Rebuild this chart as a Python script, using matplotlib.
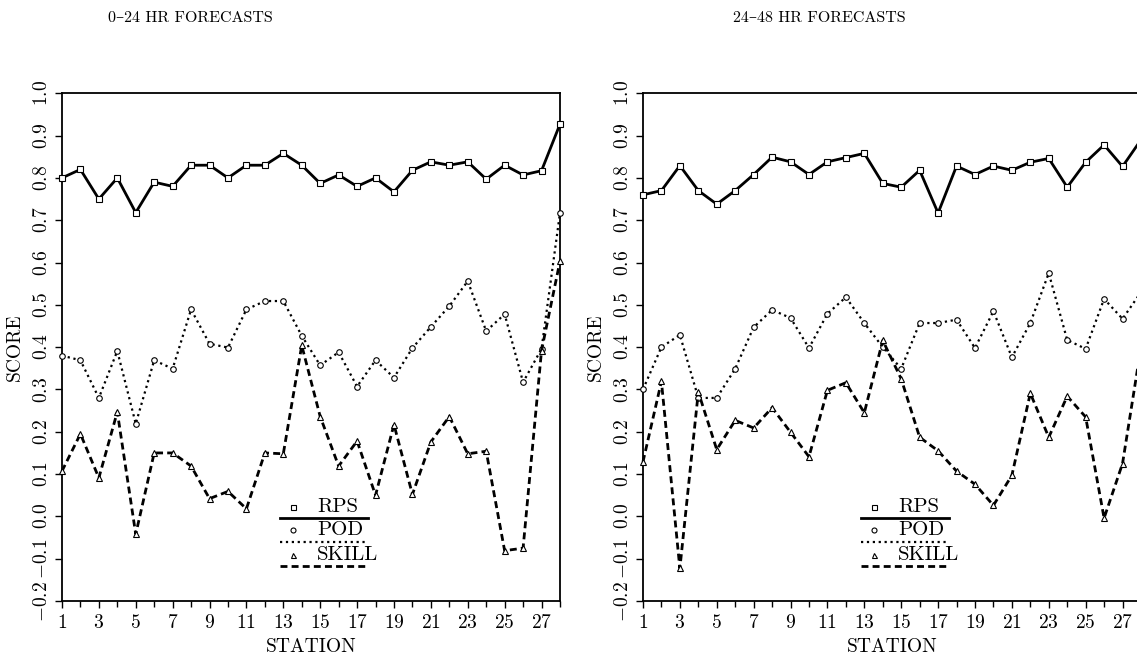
import matplotlib.pyplot as plt
import numpy as np
from matplotlib.ticker import FuncFormatter

plt.rcParams['font.family'] = ['cmr10', 'DejaVu Serif']
plt.rcParams['mathtext.fontset'] = 'cm'
plt.rcParams['axes.formatter.use_mathtext'] = True

stations = np.arange(1, 29)

# 0-24 hr forecasts
rps_a = [0.80, 0.82, 0.75, 0.80, 0.718, 0.79, 0.78, 0.83, 0.83, 0.80,
         0.83, 0.83, 0.858, 0.83, 0.787, 0.807, 0.78, 0.80, 0.767, 0.818,
         0.838, 0.83, 0.838, 0.797, 0.83, 0.807, 0.817, 0.927]
pod_a = [0.38, 0.369, 0.28, 0.391, 0.219, 0.369, 0.349, 0.489, 0.408, 0.399,
         0.489, 0.509, 0.509, 0.427, 0.357, 0.388, 0.307, 0.369, 0.328, 0.398,
         0.448, 0.497, 0.556, 0.438, 0.478, 0.317, 0.396, 0.717]
skill_a = [0.107, 0.195, 0.091, 0.247, -0.042, 0.150, 0.150, 0.119, 0.042, 0.059,
           0.018, 0.150, 0.148, 0.404, 0.236, 0.119, 0.178, 0.05, 0.217, 0.052,
           0.176, 0.236, 0.148, 0.154, -0.081, -0.075, 0.392, 0.603]

# 24-48 hr forecasts
rps_b = [0.76, 0.77, 0.829, 0.77, 0.738, 0.77, 0.808, 0.849, 0.838, 0.808,
         0.838, 0.848, 0.858, 0.787, 0.778, 0.818, 0.717, 0.828, 0.808, 0.828,
         0.818, 0.837, 0.846, 0.778, 0.837, 0.878, 0.827, 0.89]
pod_b = [0.30, 0.40, 0.429, 0.28, 0.28, 0.349, 0.447, 0.488, 0.469, 0.398,
         0.479, 0.518, 0.457, 0.40, 0.349, 0.457, 0.457, 0.465, 0.398, 0.485,
         0.376, 0.457, 0.575, 0.417, 0.396, 0.514, 0.467, 0.53]
skill_b = [0.129, 0.319, -0.123, 0.294, 0.158, 0.227, 0.209, 0.257, 0.199, 0.141,
           0.298, 0.316, 0.245, 0.416, 0.325, 0.187, 0.155, 0.107, 0.076, 0.026,
           0.097, 0.291, 0.187, 0.284, 0.235, -0.004, 0.125, 0.40]

titles = ['0\u201324 HR FORECASTS', '24\u201348 HR FORECASTS']
series_names = ['RPS', 'POD', 'SKILL']

fig = plt.figure(figsize=(11.37, 6.56), dpi=100)
ax1 = fig.add_axes([0.0545, 0.0838, 0.438, 0.774])
ax2 = fig.add_axes([0.5655, 0.0838, 0.438, 0.774])

styles = [
    dict(ls='-', lw=2.0, marker='s'),
    dict(ls=':', lw=1.6, marker='o'),
    dict(ls=(0, (2.5, 1.5)), lw=2.0, marker='^'),
]


def fmt(v, pos):
    return '$%.1f$' % v


def draw_panel(ax, rps, pod, skill):
    for vals, st in zip([rps, pod, skill], styles):
        ax.plot(stations, vals, color='black', ls=st['ls'], lw=st['lw'],
                marker=st['marker'], ms=4.0, mfc='white', mec='black', mew=0.8,
                clip_on=False, zorder=3)
    ax.set_xlim(1, 28)
    ax.set_ylim(-0.2, 1.0)
    ax.set_xticks(np.arange(1, 28, 2))
    ax.set_xticks(np.arange(2, 29, 2), minor=True)
    ax.set_yticks(np.round(np.arange(-0.2, 1.01, 0.1), 1))
    ax.yaxis.set_major_formatter(FuncFormatter(fmt))
    ax.tick_params(axis='both', which='both', direction='out', width=1.0,
                   labelsize=14, color='black')
    ax.tick_params(axis='x', which='major', length=5, pad=4)
    ax.tick_params(axis='x', which='minor', length=4)
    ax.tick_params(axis='y', which='major', length=5, pad=3)
    for lab in ax.get_yticklabels():
        lab.set_rotation(90)
        lab.set_va('center')
    for sp in ax.spines.values():
        sp.set_linewidth(1.3)
    ax.set_xlabel('STATION', fontsize=14)
    ax.set_ylabel('SCORE', fontsize=14)
    ax.xaxis.set_label_coords(0.5, -0.072)
    ax.yaxis.set_label_coords(-0.076, 0.5)

    # legend: marker and label, with the line style drawn beneath
    text_y = [0.185, 0.140, 0.091]
    line_y = [0.163, 0.116, 0.069]
    for name, st, ty, ly in zip(series_names, styles, text_y, line_y):
        ax.plot([0.438, 0.614], [ly, ly], transform=ax.transAxes, color='black',
                ls=st['ls'], lw=st['lw'], clip_on=False)
        ax.plot([0.464], [ty], transform=ax.transAxes, marker=st['marker'],
                ms=3.6, mfc='white', mec='black', mew=0.8, ls='none')
        ax.text(0.512, ty, name, transform=ax.transAxes, fontsize=15,
                va='center', ha='left')


draw_panel(ax1, rps_a, pod_a, skill_a)
draw_panel(ax2, rps_b, pod_b, skill_b)

fig.text(0.167, 0.972, titles[0], fontsize=11.5, ha='center', va='center')
fig.text(0.721, 0.972, titles[1], fontsize=11.5, ha='center', va='center')

fig.savefig('out.png', dpi=100)
